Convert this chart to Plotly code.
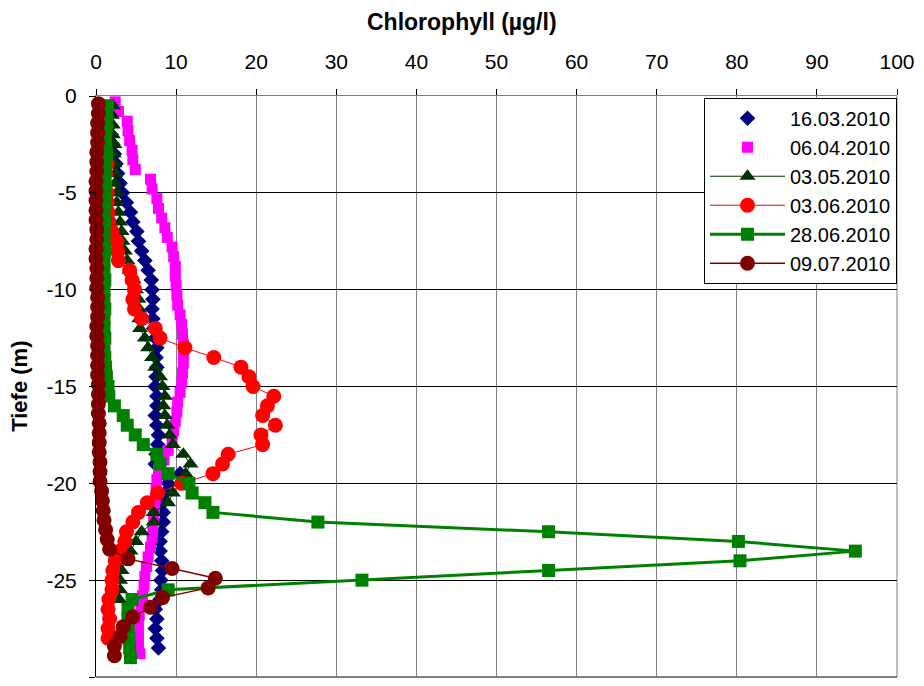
import plotly.graph_objects as go

# ---------------- data ----------------
x_ticks = [0, 10, 20, 30, 40, 50, 60, 70, 80, 90, 100]
y_ticks = [0, -5, -10, -15, -20, -25, -30]
y_ticktext = ["0", "-5", "-10", "-15", "-20", "-25", "-30"]

d_1603 = [-1.0, -1.5, -2.0, -2.5, -3.0, -3.5, -4.0, -4.5, -5.0, -5.5, -6.0, -6.5, -7.0, -7.5,
          -8.0, -8.5, -9.0, -9.5, -10.0, -10.5, -11.0, -11.5, -12.0, -12.5, -13.0, -13.5, -14.0,
          -14.5, -15.0, -15.5, -16.0, -16.5, -17.0, -17.5, -18.0, -18.5, -19.0, -19.5, -20.0,
          -20.5, -21.0, -21.5, -22.0, -22.5, -23.0, -23.5, -24.0, -24.5, -25.0, -25.5, -26.0,
          -26.5, -27.0, -27.5, -28.0, -28.5]
v_1603 = [1.6, 1.8, 1.9, 2.1, 2.3, 2.5, 2.7, 3.0, 3.3, 3.8, 4.3, 4.6, 5.1, 5.3, 5.7, 6.1, 6.5,
          6.9, 7.0, 7.1, 7.0, 7.1, 7.2, 7.4, 7.6, 7.5, 7.6, 7.5, 7.4, 7.6, 7.6, 7.4, 7.6, 7.8,
          7.7, 7.5, 7.4, 10.5, 9.0, 8.6, 8.3, 8.4, 8.4, 8.2, 8.0, 8.0, 8.2, 8.3, 8.1, 8.2, 8.0,
          7.4, 7.6, 7.4, 7.6, 7.8]

d_0604 = [-0.3, -0.8, -1.3, -1.8, -2.3, -2.8, -3.3, -3.8, -4.3, -4.8, -5.3, -5.8, -6.3, -6.8,
          -7.3, -7.8, -8.3, -8.8, -9.3, -9.8, -10.3, -10.8, -11.3, -11.8, -12.3, -12.8, -13.3,
          -13.8, -14.3, -14.8, -15.3, -15.8, -16.3, -16.8, -17.3, -17.8, -18.3, -18.8, -19.3,
          -19.8, -20.3, -20.8, -21.3, -21.8, -22.3, -22.8, -23.3, -23.8, -24.3, -24.8, -25.3,
          -25.8, -26.3, -26.8, -27.3, -27.8, -28.3, -28.8]
v_0604 = [2.4, 2.8, 3.9, 4.0, 4.2, 4.5, 4.6, 4.9, 6.8, 7.0, 7.6, 7.8, 8.2, 8.6, 8.9, 9.5, 9.7,
          9.9, 9.9, 10.0, 10.1, 10.2, 10.5, 10.7, 10.8, 10.9, 10.9, 10.9, 10.8, 10.7, 10.5, 10.2,
          10.1, 9.9, 9.7, 9.5, 9.0, 8.5, 7.8, 7.6, 7.5, 7.4, 7.3, 7.2, 7.1, 7.0, 6.8, 6.5, 6.3,
          6.1, 6.0, 5.8, 5.6, 5.4, 5.3, 5.3, 5.3, 5.5]

d_0305 = [-0.5, -1.0, -1.5, -2.0, -2.5, -3.0, -3.5, -4.0, -4.5, -5.0, -5.5, -6.0, -6.5, -7.0,
          -7.5, -8.0, -8.5, -9.0, -9.5, -10.0, -10.5, -11.0, -11.5, -12.0, -12.5, -13.0, -13.5,
          -14.0, -14.5, -15.0, -15.5, -16.0, -16.5, -17.0, -17.5, -18.0, -18.5, -19.0, -19.5,
          -20.0, -20.5, -21.0, -21.5, -22.0, -22.5, -23.0, -23.5, -24.0, -24.5, -25.0, -25.5,
          -26.0]
v_0305 = [2.1, 2.0, 2.1, 2.1, 2.3, 2.2, 2.3, 2.4, 2.4, 2.6, 2.6, 2.8, 3.0, 3.2, 3.3, 3.6, 3.9,
          4.2, 4.7, 5.0, 5.3, 5.4, 5.4, 5.5, 6.1, 6.5, 7.0, 7.4, 8.0, 8.3, 8.6, 8.4, 8.6, 8.9,
          9.2, 9.6, 10.9, 11.8, 11.2, 10.4, 9.6, 9.0, 7.2, 7.2, 5.7, 5.0, 4.3, 3.6, 3.2, 3.0,
          3.0, 2.9]

d_0306 = [-0.5, -1.0, -1.5, -2.0, -2.5, -3.0, -3.5, -4.0, -4.5, -5.0, -5.5, -6.0, -6.5, -7.0,
          -7.5, -8.0, -8.5, -9.0, -9.5, -10.0, -10.5, -11.0, -11.5, -12.0, -12.5, -13.0, -13.5,
          -14.0, -14.5, -15.0, -15.5, -16.0, -16.5, -17.0, -17.5, -18.0, -18.5, -19.0, -19.5,
          -20.0, -20.5, -21.0, -21.5, -22.0, -22.5, -23.0, -23.5, -24.0, -24.5, -25.0, -25.5,
          -26.0, -26.5, -27.0, -27.5, -28.0]
v_0306 = [0.6, 0.6, 0.7, 0.8, 0.9, 1.1, 1.4, 1.2, 1.1, 1.4, 1.4, 1.5, 1.6, 2.0, 2.6, 2.7, 2.8,
          4.2, 4.5, 4.8, 4.6, 4.8, 5.7, 7.4, 8.0, 11.1, 14.7, 18.1, 19.1, 19.6, 22.2, 21.4, 20.8,
          22.4, 20.6, 20.8, 16.5, 15.8, 14.6, 10.7, 7.7, 6.4, 5.3, 4.6, 3.8, 3.6, 3.0, 2.4, 2.1,
          2.0, 2.0, 1.6, 1.5, 1.7, 1.5, 1.5]

d_2806 = [-0.5, -1.0, -1.5, -2.0, -2.5, -3.0, -3.5, -4.0, -4.5, -5.0, -5.5, -6.0, -6.5, -7.0,
          -7.5, -8.0, -8.5, -9.0, -9.5, -10.0, -10.5, -11.0, -11.5, -12.0, -12.5, -13.0, -13.5,
          -14.0, -14.5, -15.0, -15.5, -16.0, -16.5, -17.0, -17.5, -18.0, -18.5, -19.0, -19.5,
          -20.0, -20.5, -21.0, -21.5, -22.0, -22.5, -23.0, -23.5, -24.0, -24.5, -25.0, -25.5,
          -26.0, -26.5, -27.0, -27.5, -28.0, -28.5, -29.0]
v_2806 = [1.4, 1.3, 1.3, 1.2, 1.2, 1.3, 1.2, 1.1, 1.1, 1.2, 1.1, 1.0, 1.1, 1.0, 1.0, 1.1, 1.0,
          1.0, 1.1, 1.0, 1.0, 1.1, 1.0, 1.0, 1.1, 1.0, 1.1, 1.2, 1.3, 1.5, 1.6, 2.3, 3.4, 3.9,
          4.9, 5.9, 7.6, 8.0, 9.0, 11.6, 12.0, 13.6, 14.6, 27.7, 56.5, 80.2, 94.8, 80.4, 56.5,
          33.2, 9.0, 4.5, 4.0, 4.0, 4.0, 4.1, 4.2, 4.3]

d_0907 = [-0.4, -0.9, -1.4, -1.9, -2.4, -2.9, -3.4, -3.9, -4.4, -4.9, -5.4, -5.9, -6.4, -6.9,
          -7.4, -7.9, -8.4, -8.9, -9.4, -9.9, -10.4, -10.9, -11.4, -11.9, -12.4, -12.9, -13.4,
          -13.9, -14.4, -14.9, -15.4, -15.9, -16.4, -16.9, -17.4, -17.9, -18.4, -18.9, -19.4,
          -19.9, -20.4, -20.9, -21.4, -21.9, -22.4, -22.9, -23.4, -23.9, -24.4, -24.9, -25.4,
          -25.9, -26.4, -26.9, -27.4, -27.9, -28.4, -28.9]
v_0907 = [0.3, 0.3, 0.2, 0.2, 0.2, 0.1, 0.1, 0.1, 0.0, 0.0, 0.0, 0.0, 0.0, 0.1, 0.1, 0.0, 0.0,
          0.1, 0.1, 0.1, 0.2, 0.2, 0.2, 0.1, 0.1, 0.2, 0.2, 0.2, 0.2, 0.3, 0.3, 0.3, 0.3, 0.4,
          0.4, 0.4, 0.4, 0.5, 0.5, 0.5, 0.7, 0.8, 0.9, 1.0, 1.2, 1.4, 1.7, 4.0, 9.5, 14.9, 14.0,
          8.3, 6.8, 4.6, 3.4, 3.0, 2.3, 2.3]

# ---------------- figure ----------------
FONT = "Liberation Sans, Arial, sans-serif"
fig = go.Figure()

fig.add_trace(go.Scatter(x=v_1603, y=d_1603, mode="markers", name="16.03.2010",
                         marker=dict(symbol="diamond", size=12, color="#000080"),
                         cliponaxis=False))
fig.add_trace(go.Scatter(x=v_0604, y=d_0604, mode="markers", name="06.04.2010",
                         marker=dict(symbol="square", size=11, color="#FF00FF"),
                         cliponaxis=False))
fig.add_trace(go.Scatter(x=v_0305, y=d_0305, mode="lines+markers", name="03.05.2010",
                         line=dict(color="#003300", width=1),
                         marker=dict(symbol="triangle-up", size=14, color="#003300"),
                         cliponaxis=False))
fig.add_trace(go.Scatter(x=v_0306, y=d_0306, mode="lines+markers", name="03.06.2010",
                         line=dict(color="#FF0000", width=1),
                         marker=dict(symbol="circle", size=15, color="#FF0000"),
                         cliponaxis=False))
fig.add_trace(go.Scatter(x=v_2806, y=d_2806, mode="lines+markers", name="28.06.2010",
                         line=dict(color="#008000", width=3),
                         marker=dict(symbol="square", size=13, color="#008000"),
                         cliponaxis=False))
fig.add_trace(go.Scatter(x=v_0907, y=d_0907, mode="lines+markers", name="09.07.2010",
                         line=dict(color="#800000", width=1.5),
                         marker=dict(symbol="circle", size=15, color="#800000"),
                         cliponaxis=False))

# page body has an 8px margin: figure is 916x678, placed at (8, 8)
fig.update_layout(
    width=916, height=678,
    margin=dict(l=88, r=24, t=88, b=9, pad=0),
    paper_bgcolor="white", plot_bgcolor="white",
    font=dict(family=FONT, size=21, color="black"),
    showlegend=True,
    legend=dict(x=1.0, y=0.997, xanchor="right", yanchor="top",
                bgcolor="white", bordercolor="black", borderwidth=1,
                font=dict(family=FONT, size=20, color="black"),
                itemwidth=75),
    xaxis=dict(side="top", range=[0, 100], tickvals=x_ticks,
               showgrid=True, gridcolor="#808080", gridwidth=1,
               showline=True, linecolor="#808080", linewidth=1,
               ticks="outside", ticklen=6, tickcolor="black",
               ticklabelstandoff=12,
               tickfont=dict(family=FONT, size=21, color="black"),
               zeroline=False),
    yaxis=dict(range=[-30, 0], tickvals=y_ticks, ticktext=y_ticktext,
               showgrid=True, gridcolor="black", gridwidth=1,
               showline=True, linecolor="black", linewidth=1,
               ticks="outside", ticklen=6, tickcolor="black",
               ticklabelstandoff=8,
               tickfont=dict(family=FONT, size=21, color="black"),
               zeroline=False),
    shapes=[
        dict(type="line", xref="paper", yref="paper", x0=1, x1=1, y0=0, y1=1,
             line=dict(color="#808080", width=1), layer="below"),
        dict(type="line", xref="paper", yref="paper", x0=0, x1=1, y0=0, y1=0,
             line=dict(color="black", width=1), layer="below"),
    ],
    annotations=[
        dict(text="<b>Chlorophyll (µg/l)</b>", xref="paper", yref="paper",
             x=(463 - 96) / 804, y=1 + (96 - 22) / 581, xanchor="center", yanchor="middle",
             showarrow=False, font=dict(family=FONT, size=23, color="black")),
        dict(text="<b>Tiefe (m)</b>", xref="paper", yref="paper",
             x=(19 - 96) / 804, y=0.5, xanchor="center", yanchor="middle",
             textangle=-90, showarrow=False,
             font=dict(family=FONT, size=22, color="black")),
    ],
)

fig.write_html("out.html")
